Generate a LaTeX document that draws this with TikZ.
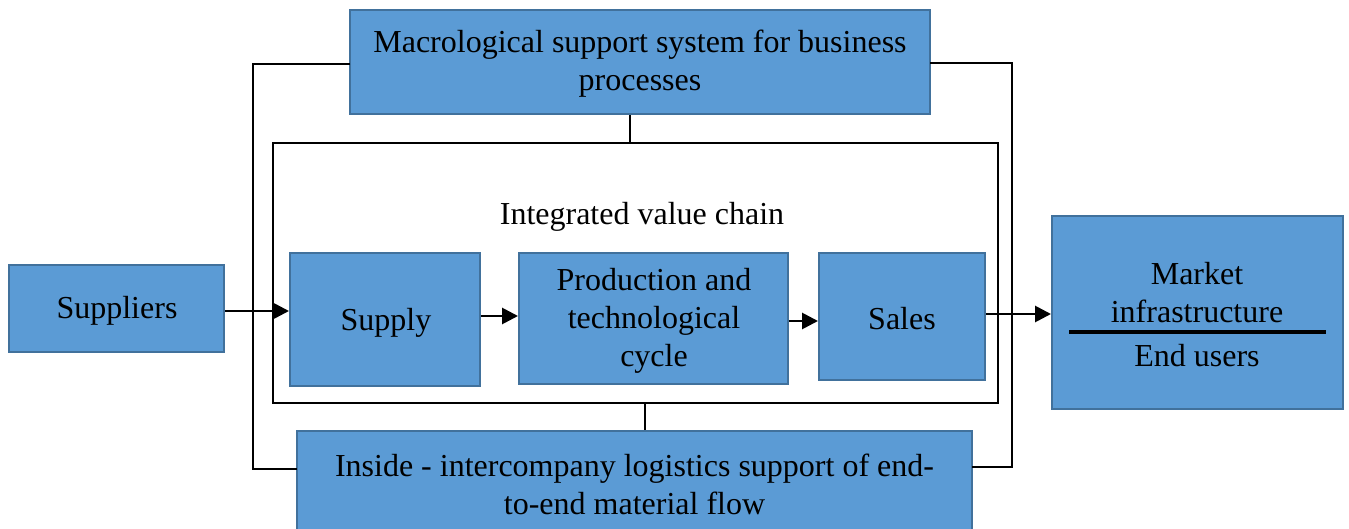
\documentclass[tikz,border=0pt]{standalone}
\usepackage{fontspec}
\setmainfont{Liberation Serif}
\usetikzlibrary{arrows.meta}
\definecolor{boxfill}{HTML}{5B9BD5}
\definecolor{boxline}{HTML}{41719C}
\begin{document}
\begin{tikzpicture}[x=1pt,y=-1pt,
  bluebox/.style={draw=boxline, fill=boxfill, line width=2pt, inner sep=0pt, align=center,
    font=\fontsize{32}{38}\selectfont},
  lbl/.style={inner sep=0pt, align=center, font=\fontsize{32}{38}\selectfont},
  conn/.style={line width=2.8pt, draw=black},
  arr/.style={conn, -{Triangle[length=16pt,width=16pt]}}]
\useasboundingbox (0,0) rectangle (1349,529);
% frame
\draw[conn] (273,143) rectangle (998,403);
\node[lbl] (ivc) at (642,217) {Integrated value chain};
% boxes
\node[bluebox, minimum width=580pt, minimum height=104pt] (macro) at (640,62) {};
\node[lbl] (macrotext) at (640,64) {Macrological support system for business\\processes};
\node[bluebox, minimum width=675pt, minimum height=110pt] (inside) at (634.5,486) {};
\node[lbl] (insidetext) at (634.5,484) {Inside - intercompany logistics support of end-\\to-end material flow};
\node[bluebox, minimum width=215pt, minimum height=87pt] (supp) at (116.5,308.5) {};
\node[lbl] (supptext) at (117,311) {Suppliers};
\node[bluebox, minimum width=190pt, minimum height=133pt] (supply) at (385,319.5) {};
\node[lbl] (supplytext) at (386,323) {Supply};
\node[bluebox, minimum width=269pt, minimum height=131pt] (prod) at (653.5,318.5) {};
\node[lbl] (prodtext) at (654,321) {Production and\\technological\\cycle};
\node[bluebox, minimum width=166pt, minimum height=127pt] (sales) at (902,316.5) {};
\node[lbl] (salestext) at (902,319) {Sales};
\node[bluebox, minimum width=291pt, minimum height=193pt] (mkt) at (1197.5,312.5) {};
\node[lbl] (mkttop) at (1197,293) {Market\\infrastructure};
\node[lbl] (mktbot) at (1197,356) {End users};
\draw[line width=4pt] (1069,332) -- (1326,332);
% coordinates
\coordinate (fTop) at (630,143);
\coordinate (fBot) at (645,403);
\coordinate (mL) at (350,64);
\coordinate (mR) at (930,63);
\coordinate (iL) at (297,469);
\coordinate (iR) at (972,467);
% connectors
\draw[conn] (macro.south -| fTop) -- (fTop);
\draw[conn] (fBot) -- (inside.north -| fBot);
\draw[conn] (mL) -- (253,64) -- (253,469) -- (iL);
\draw[conn] (mR) -- (1012,63) -- (1012,467) -- (iR);
\draw[arr] (supp.east |- 0,311) -- (supply.west |- 0,311);
\draw[arr] (supply.east |- 0,316) -- (prod.west |- 0,316);
\draw[arr] (prod.east |- 0,321) -- (sales.west |- 0,321);
\draw[arr] (sales.east |- 0,314) -- (mkt.west |- 0,314);
\end{tikzpicture}
\end{document}
